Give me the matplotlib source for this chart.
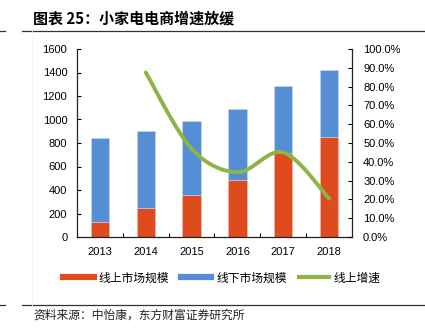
import numpy as np
import matplotlib
matplotlib.use("Agg")
import matplotlib.pyplot as plt
from matplotlib.lines import Line2D

plt.rcParams['font.family'] = ['Liberation Sans', 'Noto Sans CJK SC', 'DejaVu Sans']

years = ['2013', '2014', '2015', '2016', '2017', '2018']
online = [130, 245, 360, 485, 712, 854]
total = [840, 898, 990, 1087, 1285, 1424]
offline = [t - o for t, o in zip(total, online)]
growth_years = ['2014', '2015', '2016', '2017', '2018']
growth = [87.5, 47.0, 34.5, 45.0, 20.5]

title = '图表 25：小家电电商增速放缓'
source = '资料来源：中怡康，东方财富证券研究所'
legend_labels = ['线上市场规模', '线下市场规模', '线上增速']

c_orange = '#DD4B1E'
c_blue = '#558ED5'
c_green = '#8DB444'

fig = plt.figure(figsize=(4.25, 3.32), dpi=100)
W, H = 425, 332
ax = fig.add_axes([77 / W, 1 - 237 / H, (352 - 77) / W, (237 - 49) / H])
ax2 = ax.twinx()

x = np.arange(len(years))
bw = 0.4
ax.bar(x, online, width=bw, color=c_orange, edgecolor='#f0b8a8', linewidth=0.4, zorder=2)
ax.bar(x, offline, width=bw, bottom=online, color=c_blue, edgecolor='#c8daf0', linewidth=0.4, zorder=2)
ax.set_xlim(-0.5, len(years) - 0.5)
ax.set_ylim(0, 1600)
ax.set_yticks(np.arange(0, 1601, 200))
ax.set_xticks(x)
ax.set_xticklabels(years)
ax.set_xticks(np.arange(0.5, len(years) - 0.5, 1), minor=True)
ax.tick_params(axis='x', which='major', length=0, pad=7, labelsize=8)
ax.tick_params(axis='x', which='minor', direction='in', length=3, width=0.8)
ax.tick_params(axis='y', direction='in', length=3, width=0.8, pad=7, labelsize=8)

# smoothed growth line (Catmull-Rom / Bezier through data points)
gx = np.array([years.index(y) for y in growth_years], dtype=float)
gy = np.array(growth, dtype=float)
pts = np.column_stack([gx, gy])
curve = []
n = len(pts)
t = np.linspace(0, 1, 30)
for i in range(n - 1):
    p0 = pts[i - 1] if i > 0 else pts[i]
    p1 = pts[i]
    p2 = pts[i + 1]
    p3 = pts[i + 2] if i + 2 < n else pts[i + 1]
    c1 = p1 + (p2 - p0) / 6
    c2 = p2 - (p3 - p1) / 6
    seg = ((1 - t) ** 3)[:, None] * p1 + (3 * (1 - t) ** 2 * t)[:, None] * c1 \
        + (3 * (1 - t) * t ** 2)[:, None] * c2 + (t ** 3)[:, None] * p2
    curve.append(seg)
curve = np.vstack(curve)
ax2.plot(curve[:, 0], curve[:, 1], color=c_green, lw=2.8, solid_capstyle='round', zorder=3)
ax2.set_ylim(0, 100)
ax2.set_yticks(np.arange(0, 101, 10))
ax2.set_yticklabels([f'{v:.1f}%' for v in np.arange(0, 101, 10)])
ax2.tick_params(axis='y', direction='in', length=3, width=0.8, pad=8, labelsize=8)

for a in (ax, ax2):
    a.spines['top'].set_visible(False)
    for s in ('left', 'right', 'bottom'):
        a.spines[s].set_linewidth(0.9)
        a.spines[s].set_color('#222222')
ax.spines['right'].set_visible(False)
ax2.spines['left'].set_visible(False)
ax2.spines['bottom'].set_visible(False)

handles = [Line2D([], [], color=c_orange, lw=4.5),
           Line2D([], [], color=c_blue, lw=4.5),
           Line2D([], [], color=c_green, lw=3)]
fig.legend(handles, legend_labels, loc='center', bbox_to_anchor=(222 / W, 1 - 278 / H),
           ncol=3, frameon=False, handlelength=2.6, handletextpad=0.4,
           columnspacing=1.0, prop={'family': ['Noto Sans CJK SC'], 'size': 8.5})

fig.text(33 / W, 1 - 18 / H, title, fontsize=10.8, fontweight='bold',
         family=['Noto Sans CJK SC'], va='center', ha='left')
fig.text(33 / W, 1 - 315 / H, source, fontsize=8.5,
         family=['Noto Sans CJK SC'], va='center', ha='left', color='#222222')
fig.add_artist(Line2D([22 / W, 1], [1 - 31 / H] * 2, color='#333333', lw=0.9))
fig.add_artist(Line2D([22 / W, 1], [1 - 305 / H] * 2, color='#333333', lw=0.9))
fig.add_artist(Line2D([0, 5 / W], [1 - 31 / H] * 2, color='#333333', lw=0.9))
fig.add_artist(Line2D([0, 5 / W], [1 - 305 / H] * 2, color='#333333', lw=0.9))
fig.add_artist(Line2D([32 / W, 32 / W], [1 - 305 / H, 1 - 31 / H], color='#f2f2f2', lw=0.6))

fig.savefig('out.png', dpi=100)
